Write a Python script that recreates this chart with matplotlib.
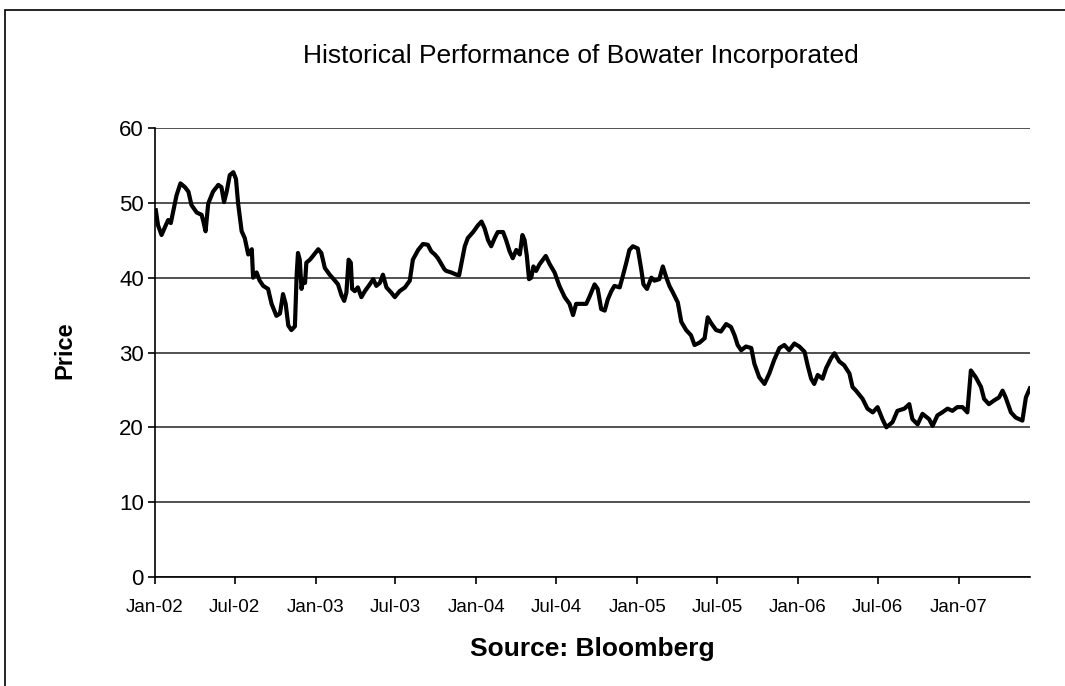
import pandas as pd
import matplotlib.pyplot as plt
import matplotlib.dates as mdates
from matplotlib.patches import Rectangle

plt.rcParams['font.family'] = ['Liberation Sans', 'DejaVu Sans']

# weekly-ish closing prices
dates = [
    '2002-01-03', '2002-01-08', '2002-01-16', '2002-01-24', '2002-01-31', '2002-02-06',
    '2002-02-12', '2002-02-19', '2002-02-28', '2002-03-10', '2002-03-18', '2002-03-25',
    '2002-04-06', '2002-04-17', '2002-04-21', '2002-04-26', '2002-05-02', '2002-05-13',
    '2002-05-25', '2002-06-01', '2002-06-07', '2002-06-13', '2002-06-20', '2002-06-28',
    '2002-07-04', '2002-07-09', '2002-07-17', '2002-07-24', '2002-08-01', '2002-08-09',
    '2002-08-12', '2002-08-20', '2002-08-27', '2002-09-04', '2002-09-15', '2002-09-23',
    '2002-10-04', '2002-10-12', '2002-10-19', '2002-10-25', '2002-10-31', '2002-11-07',
    '2002-11-15', '2002-11-19', '2002-11-22', '2002-11-26', '2002-11-30', '2002-12-04',
    '2002-12-08', '2002-12-11', '2002-12-19', '2002-12-26',
    '2003-01-07', '2003-01-14', '2003-01-22', '2003-02-02', '2003-02-14', '2003-02-21',
    '2003-03-01', '2003-03-07', '2003-03-12', '2003-03-17', '2003-03-22', '2003-03-25',
    '2003-03-31', '2003-04-07', '2003-04-15', '2003-04-23', '2003-05-04', '2003-05-12',
    '2003-05-19', '2003-05-27', '2003-06-03', '2003-06-11', '2003-06-22', '2003-06-30',
    '2003-07-11', '2003-07-23', '2003-08-03', '2003-08-10', '2003-08-22', '2003-09-02',
    '2003-09-13', '2003-09-21', '2003-09-29', '2003-10-06', '2003-10-14', '2003-10-21',
    '2003-10-25', '2003-11-05', '2003-11-17', '2003-11-23', '2003-11-28', '2003-12-06',
    '2003-12-13', '2003-12-25',
    '2004-01-05', '2004-01-13', '2004-01-20', '2004-01-28', '2004-02-04', '2004-02-12',
    '2004-02-19', '2004-03-02', '2004-03-09', '2004-03-17', '2004-03-24', '2004-04-01',
    '2004-04-09', '2004-04-15', '2004-04-20', '2004-04-25', '2004-04-30', '2004-05-05',
    '2004-05-10', '2004-05-16', '2004-05-24', '2004-06-07', '2004-06-16', '2004-06-27',
    '2004-07-08', '2004-07-20', '2004-07-31', '2004-08-08', '2004-08-15', '2004-08-27',
    '2004-09-07', '2004-09-14', '2004-09-26', '2004-10-03', '2004-10-11', '2004-10-19',
    '2004-10-26', '2004-11-03', '2004-11-10', '2004-11-22', '2004-11-29', '2004-12-07',
    '2004-12-14', '2004-12-22',
    '2005-01-02', '2005-01-10', '2005-01-15', '2005-01-23', '2005-02-02', '2005-02-09',
    '2005-02-20', '2005-02-28', '2005-03-08', '2005-03-15', '2005-03-23', '2005-04-03',
    '2005-04-11', '2005-04-22', '2005-05-03', '2005-05-11', '2005-05-22', '2005-06-03',
    '2005-06-10', '2005-06-18', '2005-06-29', '2005-07-10', '2005-07-22', '2005-08-02',
    '2005-08-10', '2005-08-17', '2005-08-25', '2005-09-05', '2005-09-17', '2005-09-24',
    '2005-10-05', '2005-10-17', '2005-10-28', '2005-11-08', '2005-11-20', '2005-12-01',
    '2005-12-12', '2005-12-24',
    '2006-01-04', '2006-01-16', '2006-01-23', '2006-01-31', '2006-02-07', '2006-02-15',
    '2006-02-26', '2006-03-06', '2006-03-17', '2006-03-25', '2006-04-05', '2006-04-16',
    '2006-04-28', '2006-05-05', '2006-05-13', '2006-05-28', '2006-06-08', '2006-06-20',
    '2006-07-01', '2006-07-12', '2006-07-21', '2006-08-04', '2006-08-15', '2006-08-31',
    '2006-09-11', '2006-09-18', '2006-09-30', '2006-10-11', '2006-10-26', '2006-11-03',
    '2006-11-14', '2006-11-25', '2006-12-07', '2006-12-18', '2006-12-29',
    '2007-01-10', '2007-01-21', '2007-01-29', '2007-02-09', '2007-02-21', '2007-02-28',
    '2007-03-11', '2007-03-23', '2007-04-03', '2007-04-11', '2007-04-18', '2007-04-30',
    '2007-05-11', '2007-05-26', '2007-06-03', '2007-06-12',
]
prices = [
    49.0, 47.0, 45.7, 46.8, 47.7, 47.3,
    49.0, 51.0, 52.6, 52.1, 51.5, 49.7,
    48.7, 48.4, 47.5, 46.2, 49.9, 51.5,
    52.4, 52.1, 50.1, 51.5, 53.7, 54.1,
    53.2, 49.9, 46.2, 45.3, 43.1, 43.8,
    40.0, 40.7, 39.6, 38.9, 38.5, 36.5,
    34.9, 35.2, 37.8, 36.5, 33.6, 33.0,
    33.5, 40.4, 43.3, 42.4, 38.5, 39.8,
    39.3, 42.0, 42.4, 42.9,
    43.8, 43.3, 41.3, 40.4, 39.6, 39.1,
    37.6, 36.9, 38.0, 42.4, 42.0, 38.5,
    38.2, 38.7, 37.4, 38.2, 39.1, 39.8,
    38.9, 39.3, 40.4, 38.7, 38.0, 37.4,
    38.2, 38.7, 39.6, 42.4, 43.7, 44.5,
    44.4, 43.5, 43.1, 42.6, 41.8, 41.1,
    40.9, 40.7, 40.4, 40.3, 41.8, 44.2,
    45.3, 46.1,
    47.0, 47.5, 46.6, 45.0, 44.2, 45.3,
    46.1, 46.1, 45.0, 43.5, 42.6, 43.7,
    43.1, 45.7, 45.0, 42.9, 39.8, 40.0,
    41.5, 40.9, 41.8, 42.9, 41.8, 40.7,
    38.9, 37.4, 36.5, 35.0, 36.5, 36.5,
    36.5, 37.4, 39.1, 38.5, 35.8, 35.6,
    37.1, 38.2, 38.9, 38.7, 40.2, 42.0,
    43.7, 44.2,
    43.9, 41.1, 39.1, 38.5, 40.0, 39.6,
    39.8, 41.5, 40.0, 38.9, 38.0, 36.7,
    34.1, 33.0, 32.3, 31.0, 31.3, 31.9,
    34.7, 33.9, 33.0, 32.8, 33.8, 33.4,
    32.3, 31.0, 30.3, 30.8, 30.6, 28.5,
    26.7, 25.8, 27.2, 29.0, 30.6, 31.0,
    30.3, 31.2,
    30.8, 30.1, 28.3, 26.5, 25.8, 27.0,
    26.5, 27.9, 29.2, 29.9, 28.8, 28.3,
    27.2, 25.4, 24.9, 23.8, 22.5, 22.0,
    22.7, 21.1, 20.0, 20.7, 22.2, 22.5,
    23.1, 21.1, 20.4, 21.8, 21.1, 20.2,
    21.6, 22.0, 22.5, 22.2, 22.7,
    22.7, 22.0, 27.6, 26.7, 25.4, 23.8,
    23.1, 23.6, 24.0, 24.9, 24.0, 22.0,
    21.3, 20.9, 24.0, 25.2,
]

x = pd.to_datetime(dates)

fig = plt.figure(figsize=(10.65, 6.86), dpi=100)
ax = fig.add_axes([0.1455, 0.1589, 0.8215, 0.6545])

ax.plot(x, prices, color='black', linewidth=3.0)

ax.set_ylim(0, 60)
ax.set_yticks(range(0, 70, 10))
ax.set_xlim(pd.Timestamp('2002-01-01'), pd.Timestamp('2007-06-12'))
ax.xaxis.set_major_locator(mdates.MonthLocator(bymonth=[1, 7]))
ax.xaxis.set_major_formatter(mdates.DateFormatter('%b-%y'))

ax.grid(True, axis='y', color='#333333', linewidth=1.2)
ax.set_axisbelow(True)
for s in ['top', 'right']:
    ax.spines[s].set_visible(False)
ax.spines['left'].set_linewidth(1.2)
ax.spines['bottom'].set_linewidth(1.2)
ax.tick_params(axis='y', labelsize=16, length=5, width=1.2, pad=3)
ax.tick_params(axis='x', labelsize=13.5, length=5, width=1.2, pad=11)

fig.text(65 / 1065, 1 - 350 / 686, 'Price', rotation=90, ha='center', va='center',
         fontsize=17, fontweight='bold')
fig.text(581 / 1065, 1 - 56 / 686, 'Historical Performance of Bowater Incorporated',
         ha='center', va='center', fontsize=19)
fig.text(592 / 1065, 1 - 649 / 686, 'Source: Bloomberg', ha='center', va='center',
         fontsize=19, fontweight='bold')

# outer chart frame (cropped at right and bottom)
fig.patches.append(Rectangle((5 / 1065, -0.05), 1.0, 0.05 + (686 - 10) / 686,
                             transform=fig.transFigure, fill=False,
                             edgecolor='black', linewidth=1.2))

fig.savefig('out.png', dpi=100)
